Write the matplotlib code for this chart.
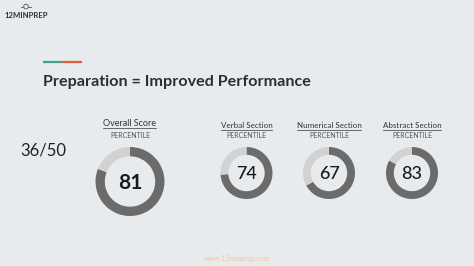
import numpy as np
import matplotlib
matplotlib.use("Agg")
import matplotlib.pyplot as plt

# data
total_score = "36/50"
sections = ["Overall Score", "Verbal Section", "Numerical Section", "Abstract Section"]
percentiles = [81, 74, 67, 83]

W, H = 474, 266
BG = "#e8ebee"
DARK = "#6b6b6b"
LIGHT = "#d2d2d2"
FONT = "Lato"

# donut centres/radii in pixels (layout only)
centres = [(130, 181.5), (246.5, 173), (329, 173), (412, 173)]
radii = [34.5, 26, 26, 26]
head_y = [123.5, 125, 125, 125]
head_size = [6.5, 5.8, 5.8, 5.8]
num_size = [15, 13, 13, 13]

fig = plt.figure(figsize=(W / 100, H / 100), dpi=100, facecolor=BG)
ax = fig.add_axes([0, 0, 1, 1])
ax.set_xlim(0, W)
ax.set_ylim(H, 0)
ax.axis("off")
ax.set_facecolor(BG)

# logo
ax.text(26, 15.5, "12MINPREP", fontsize=5.6, fontweight="bold", family=FONT,
        color="#333333", ha="center", va="center")
ax.add_patch(plt.Circle((26, 6.5), 2.3, fill=False, lw=0.6, color="#555555"))
ax.plot([21, 23.5], [6.5, 6.5], color="#555555", lw=0.6)
ax.plot([28.5, 31], [6.5, 6.5], color="#555555", lw=0.6)

# accent bar + title
ax.plot([43, 62.5], [62, 62], color="#3aa58a", lw=1.6, solid_capstyle="butt")
ax.plot([62.5, 82], [62, 62], color="#d9623b", lw=1.6, solid_capstyle="butt")
ax.text(43, 82, "Preparation = Improved Performance", fontsize=11.6,
        fontweight="bold", family=FONT, color="#2e2e2e", va="center")

ax.text(20, 150, total_score, fontsize=12, family=FONT, color="#222222", va="center")

fig.canvas.draw()
renderer = fig.canvas.get_renderer()

for name, p, (cx, cy), r, hy, hs, ns in zip(sections, percentiles, centres, radii,
                                            head_y, head_size, num_size):
    t = ax.text(cx, hy, name, fontsize=hs, family=FONT, color="#333333",
                ha="center", va="center")
    bb = t.get_window_extent(renderer)
    ax.plot([bb.x0, bb.x1], [hy + 4.5, hy + 4.5], color="#333333", lw=0.5)
    ax.text(cx, 136, "PERCENTILE", fontsize=5.0, family=FONT, color="#555555",
            ha="center", va="center")

    pax = fig.add_axes([(cx - r) / W, 1 - (cy + r) / H, 2 * r / W, 2 * r / H])
    pax.pie([p, 100 - p], colors=[DARK, LIGHT], startangle=90, counterclock=False,
            radius=1, wedgeprops=dict(width=0.27 if r > 30 else 0.3, linewidth=0))
    pax.set_xlim(-1, 1)
    pax.set_ylim(-1, 1)
    pax.axis("off")
    pax.text(0, -0.05, str(p), fontsize=ns, family=FONT,
             fontweight="bold" if r > 30 else "medium",
             color="#1a1a1a", ha="center", va="center")

ax.text(237, 258, "www.12minprep.com", fontsize=5, family=FONT, color="#f2c79a",
        ha="center", va="center")

fig.savefig("out.png", dpi=100, facecolor=BG)
